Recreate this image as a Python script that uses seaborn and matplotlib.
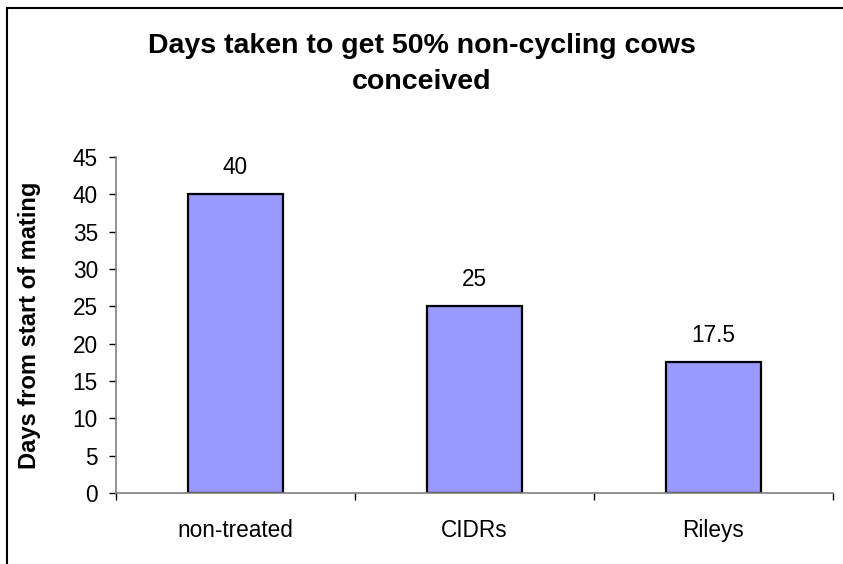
import matplotlib
matplotlib.use("Agg")
import matplotlib.pyplot as plt
import seaborn as sns
import pandas as pd
from matplotlib.patches import Rectangle

categories = ["non-treated", "CIDRs", "Rileys"]
values = [40, 25, 17.5]
value_labels = ["40", "25", "17.5"]
yticks = [0, 5, 10, 15, 20, 25, 30, 35, 40, 45]

sns.set_theme(style="white")
plt.rcParams["font.family"] = ["Liberation Sans", "DejaVu Sans"]
plt.rcParams["text.color"] = "black"
plt.rcParams["xtick.color"] = "black"
plt.rcParams["ytick.color"] = "black"

W, H = 843, 564
fig = plt.figure(figsize=(W / 100, H / 100), dpi=100)
ax = fig.add_axes([116 / W, 1 - 493 / H, (833 - 116) / W, (493 - 157) / H])

df = pd.DataFrame({"cat": categories, "val": values})
sns.barplot(data=df, x="cat", y="val", ax=ax, width=0.4, color="#9999FF",
            saturation=1, edgecolor="black", linewidth=1.6)

fs = 16.3
ax.set_xlim(-0.5, 2.5)
ax.set_ylim(0, 45)
ax.set_yticks(yticks)
ax.set_yticklabels([str(t) for t in yticks], fontsize=fs)
ax.set_xticks([-0.5, 0.5, 1.5, 2.5])
ax.set_xticklabels([])
ax.set_xticks([0, 1, 2], minor=True)
ax.set_xticklabels(categories, minor=True, fontsize=fs)
ax.tick_params(axis="x", which="major", length=5, width=1, color="black", direction="out", bottom=True)
ax.tick_params(axis="x", which="minor", length=0, pad=19, bottom=True, labelcolor="black")
ax.tick_params(axis="y", length=5, width=1, color="black", direction="out", left=True, pad=8, labelcolor="black")
ax.set_xlabel("")
ax.set_ylabel("")

for s in ["top", "right"]:
    ax.spines[s].set_visible(False)
for s in ["left", "bottom"]:
    ax.spines[s].set_color("#808080")
    ax.spines[s].set_linewidth(1.2)

for i, (v, lab) in enumerate(zip(values, value_labels)):
    ax.annotate(lab, (i, v), xytext=(0, 19), textcoords="offset points",
                ha="center", va="center", fontsize=fs, color="black")

fig.text(30 / W, 1 - 325 / H, "Days from start of mating", rotation=90,
         ha="center", va="center", fontsize=17, fontweight="bold", color="black")
fig.text(0.5, 1 - 64 / H, "Days taken to get 50% non-cycling cows\nconceived",
         ha="center", va="center", fontsize=20.5, fontweight="bold",
         linespacing=1.5, color="black")

fig.patches.append(Rectangle((6.5 / W, -0.1), 1.2, 1 - 8.5 / H + 0.1,
                             transform=fig.transFigure, fill=False,
                             edgecolor="black", linewidth=1.5))

fig.savefig("out.png", dpi=100)
